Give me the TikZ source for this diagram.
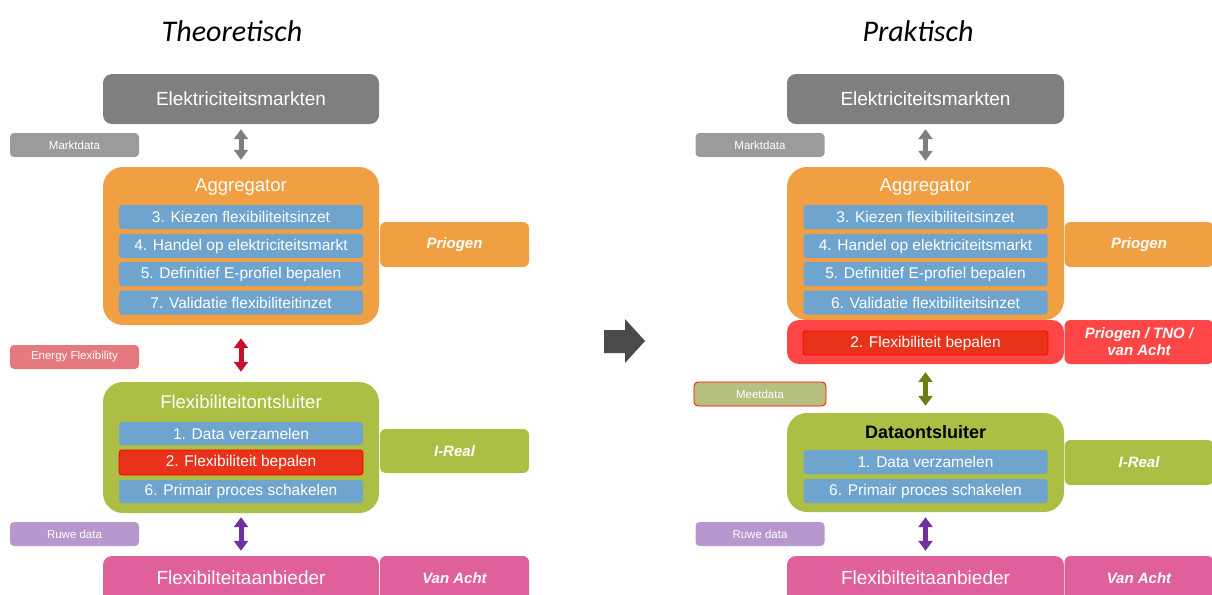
\documentclass[tikz,border=0pt]{standalone}
\usepackage{fontspec}
\setmainfont{Liberation Sans}
\newfontfamily\titlefont{Carlito}
\usetikzlibrary{arrows.meta}
\definecolor{cgray}{HTML}{7F7F7F}
\definecolor{clgray}{HTML}{9B9B9B}
\definecolor{corange}{HTML}{F0A042}
\definecolor{cblue}{HTML}{6FA4CE}
\definecolor{cred}{HTML}{E8321A}
\definecolor{cgreen}{HTML}{ADBE45}
\definecolor{cef}{HTML}{E5797F}
\definecolor{cpurple}{HTML}{B698CF}
\definecolor{cpink}{HTML}{E0609B}
\definecolor{cbright}{HTML}{FF4646}
\definecolor{cmeet}{HTML}{B5C07F}
\definecolor{colive}{HTML}{6B7F10}
\definecolor{carrred}{HTML}{C8102E}
\definecolor{carrpur}{HTML}{7030A0}
\definecolor{cdark}{HTML}{4A4A4A}
\tikzset{
  box/.style={inner sep=0pt, text=white, align=center},
  bigbox/.style={box, rounded corners=9pt, font=\fontsize{19}{22}\selectfont},
  groupbox/.style={box, rounded corners=20pt},
  subbox/.style={box, fill=cblue, rounded corners=3pt, minimum width=244pt, minimum height=24pt, font=\fontsize{15.5}{18}\selectfont},
  redsub/.style={subbox, fill=cred, draw=red, line width=0.8pt},
  tagbox/.style={box, rounded corners=6pt, minimum width=149pt, font=\bfseries\itshape\fontsize{15}{18}\selectfont},
  labbox/.style={box, rounded corners=4pt, minimum width=129pt, minimum height=24pt, font=\fontsize{11.5}{13}\selectfont},
  grptitle/.style={box, font=\fontsize{18.5}{22}\selectfont},
  titletext/.style={font=\titlefont\itshape\fontsize{30}{34}\selectfont, text=black},
  dbl/.style={line width=5pt, {Triangle[width=14pt,length=10pt]}-{Triangle[width=14pt,length=10pt]}},
}
\begin{document}
\begin{tikzpicture}[x=1pt,y=-1pt]
\useasboundingbox (0,0) rectangle (1212,594);
% ---------------- Left: Theoretisch ----------------
\node[titletext] (tL) at (232,31) {Theoretisch};
\node[bigbox, fill=cgray, minimum width=276pt, minimum height=50pt] (elekL) at (241,99) {Elektriciteitsmarkten};
\node[labbox, fill=clgray] (mdL) at (74.5,145) {Marktdata};
\node[groupbox, fill=corange, minimum width=276pt, minimum height=158pt] (aggL) at (241,246) {};
\node[grptitle] (aggLt) at (241,187) {Aggregator};
\node[subbox] (a3L) at (241,217) {3. Kiezen flexibiliteitsinzet};
\node[subbox] (a4L) at (241,246) {4. Handel op elektriciteitsmarkt};
\node[subbox] (a5L) at (241,274) {5. Definitief E-profiel bepalen};
\node[subbox] (a7L) at (241,302.5) {7. Validatie flexibiliteitinzet};
\node[tagbox, fill=corange, minimum height=45pt] (priL) at (454.5,244.5) {Priogen};
\node[labbox, fill=cef] (efL) at (74.5,357) {Energy Flexibility};
\node[groupbox, fill=cgreen, minimum width=276pt, minimum height=131pt] (flexL) at (241,447.5) {};
\node[grptitle] (flexLt) at (241,402) {Flexibiliteitontsluiter};
\node[subbox, minimum height=23pt] (f1L) at (241,433.5) {1. Data verzamelen};
\node[redsub, minimum height=25pt] (f2L) at (241,462.5) {2. Flexibiliteit bepalen};
\node[subbox, minimum height=23pt] (f6L) at (241,491.5) {6. Primair proces schakelen};
\node[tagbox, fill=cgreen, minimum height=44pt] (irL) at (454.5,451) {I-Real};
\node[labbox, fill=cpurple] (rdL) at (74.5,534) {Ruwe data};
\node[bigbox, fill=cpink, minimum width=276pt, minimum height=48pt, text depth=0pt] (aanL) at (241,580) {};
\node[box, font=\fontsize{19}{22}\selectfont] (aanLt) at (241,578) {Flexibilteitaanbieder};
\node[tagbox, fill=cpink, minimum height=48pt] (vaL) at (454.5,580) {};
\node[box, font=\bfseries\itshape\fontsize{15}{18}\selectfont] (vaLt) at (454.5,578) {Van Acht};
\draw[dbl, cgray, shorten <=5pt, shorten >=7pt] (elekL.south) -- (aggL.north);
\draw[dbl, carrred, shorten <=13pt, shorten >=10pt] (aggL.south) -- (flexL.north);
\draw[dbl, carrpur, shorten <=4pt, shorten >=5pt] (flexL.south) -- (aanL.north);
% ---------------- middle arrow ----------------
\fill[cdark] (604,330) -- (625,330) -- (625,319) -- (645,341) -- (625,363) -- (625,353) -- (604,353) -- cycle;
% ---------------- Right: Praktisch ----------------
\node[titletext] (tR) at (918,31) {Praktisch};
\node[bigbox, fill=cgray, minimum width=277pt, minimum height=50pt] (elekR) at (925.5,99) {Elektriciteitsmarkten};
\node[labbox, fill=clgray] (mdR) at (760,145) {Marktdata};
\node[groupbox, fill=corange, minimum width=277pt, minimum height=153pt] (aggR) at (925.5,243.5) {};
\node[grptitle] (aggRt) at (925.5,187) {Aggregator};
\node[subbox] (a3R) at (925.5,217) {3. Kiezen flexibiliteitsinzet};
\node[subbox] (a4R) at (925.5,246) {4. Handel op elektriciteitsmarkt};
\node[subbox] (a5R) at (925.5,274) {5. Definitief E-profiel bepalen};
\node[subbox] (a6R) at (925.5,302.5) {6. Validatie flexibiliteitsinzet};
\node[tagbox, fill=corange, minimum height=45pt] (priR) at (1139,244.5) {Priogen};
\node[groupbox, rounded corners=12pt, fill=cbright, minimum width=277pt, minimum height=44pt] (fbR) at (925.5,342) {};
\node[redsub, minimum width=245pt] (f2R) at (925.5,343) {2. Flexibiliteit bepalen};
\node[tagbox, fill=cbright, minimum height=44pt, font=\bfseries\itshape\fontsize{15}{17}\selectfont] (ptR) at (1139,342) {Priogen / TNO /\\van Acht};
\node[labbox, fill=cmeet, draw=red, line width=0.8pt, minimum width=132pt] (meetR) at (760,394) {Meetdata};
\node[groupbox, fill=cgreen, minimum width=277pt, minimum height=99pt] (dataR) at (925.5,462.5) {};
\node[box, text=black, font=\bfseries\fontsize{18}{22}\selectfont] (dataRt) at (925.5,432) {Dataontsluiter};
\node[subbox] (d1R) at (925.5,462) {1. Data verzamelen};
\node[subbox] (d6R) at (925.5,491) {6. Primair proces schakelen};
\node[tagbox, fill=cgreen, minimum height=45pt] (irR) at (1139,462.5) {I-Real};
\node[labbox, fill=cpurple] (rdR) at (760,534) {Ruwe data};
\node[bigbox, fill=cpink, minimum width=277pt, minimum height=48pt] (aanR) at (925.5,580) {};
\node[box, font=\fontsize{19}{22}\selectfont] (aanRt) at (925.5,578) {Flexibilteitaanbieder};
\node[tagbox, fill=cpink, minimum height=48pt] (vaR) at (1139,580) {};
\node[box, font=\bfseries\itshape\fontsize{15}{18}\selectfont] (vaRt) at (1139,578) {Van Acht};
\draw[dbl, cgray, shorten <=5pt, shorten >=6pt] (elekR.south) -- (aggR.north);
\draw[dbl, colive, shorten <=8pt, shorten >=7pt] (fbR.south) -- (dataR.north);
\draw[dbl, carrpur, shorten <=5pt, shorten >=5pt] (dataR.south) -- (aanR.north);
\end{tikzpicture}
\end{document}
